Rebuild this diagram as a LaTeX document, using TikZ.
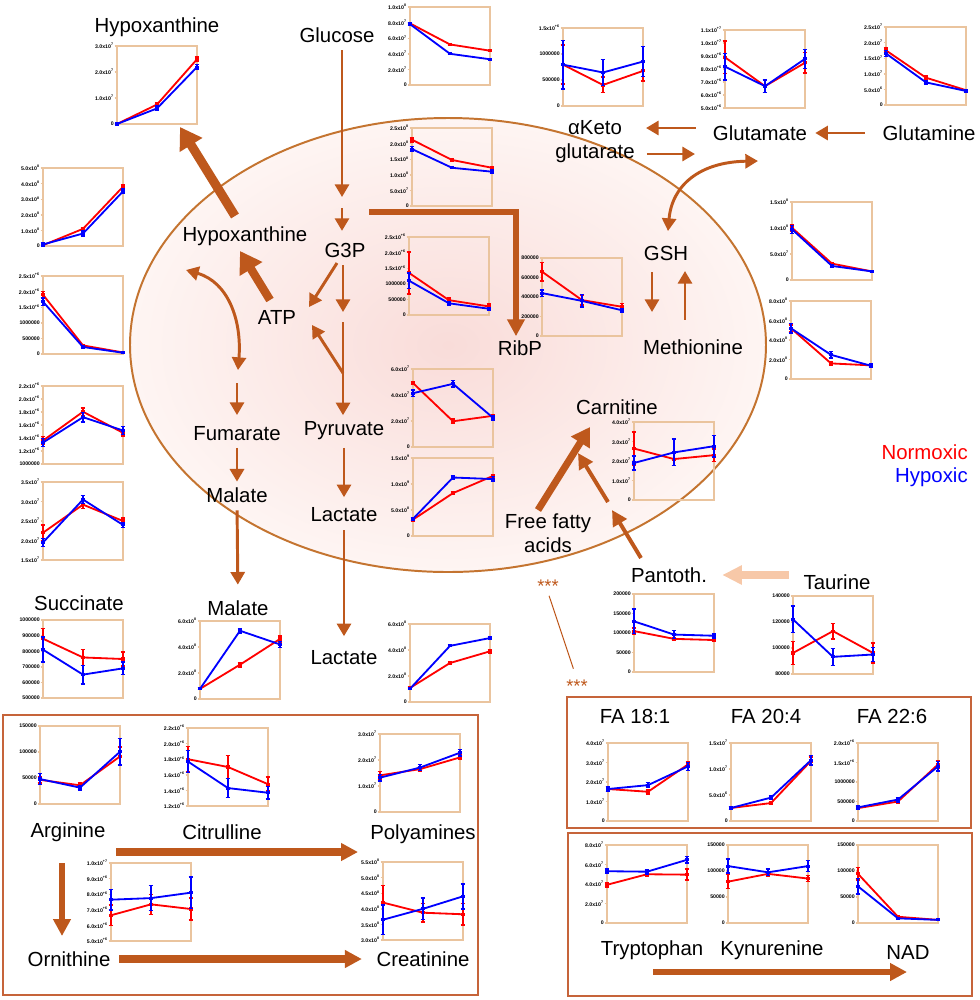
\documentclass[tikz,border=0pt]{standalone}
\usepackage{fontspec}
\setmainfont{Liberation Sans}
\usetikzlibrary{arrows.meta}

\definecolor{arrowbrown}{RGB}{190,88,28}
\definecolor{rimbrown}{RGB}{196,116,48}
\definecolor{boxbrown}{RGB}{198,100,58}
\definecolor{frametan}{RGB}{234,196,158}
\definecolor{peach}{RGB}{247,200,168}
\definecolor{cellpink}{RGB}{249,220,217}
\definecolor{cellpale}{RGB}{254,245,243}

\tikzset{
  chartframe/.style={draw=frametan, line width=1pt},
  ticklab/.style={anchor=east, inner sep=0.4pt, font=\fontsize{3.7}{4}\selectfont\bfseries},
  series/.style={line width=1.3pt, line cap=round},
  errbar/.style={line width=1pt},
}

% tick label in the chart's own notation
\newcommand{\sci}[2]{#1x10\textsuperscript{#2}}

% one data series: list of value/error, values as fraction of the axis
\newcommand{\plotseries}[2]{%
  \foreach \yv/\ev [count=\i from 0, remember=\yv as \yold (initially 0)] in {#2} {
    \ifnum\i>0 \draw[series,#1] ({(\i-1)/2},\yold) -- (\i/2,\yv);\fi
    \draw[errbar,#1] (\i/2,\yv-\ev) -- (\i/2,\yv+\ev)
      (\i/2-0.03,\yv-\ev) -- (\i/2+0.03,\yv-\ev)
      (\i/2-0.03,\yv+\ev) -- (\i/2+0.03,\yv+\ev);
    \fill[#1] (\i/2,\yv) +(-0.02,-0.02) rectangle +(0.02,0.02);
  }}

% small chart: top left corner, number of intervals, tick labels, normoxic, hypoxic
\newcommand{\minichart}[5]{%
  \begin{scope}[shift={#1}, yshift=-19.5mm, x=20mm, y=19.5mm]
    \draw[chartframe] (0,0) rectangle (1,1);
    \foreach \lab [count=\k from 0] in {#3} {
      \draw[chartframe] (-0.03,\k/#2) -- (0,\k/#2);
      \node[ticklab] at (-0.03,\k/#2) {\lab};
    }
    \plotseries{red}{#4}
    \plotseries{blue}{#5}
  \end{scope}}

\begin{document}
\begin{tikzpicture}[x=0.25mm, y=-0.25mm, >={Triangle[width=10pt,length=9pt]}]
  \tikzstyle{lab}=[font=\fontsize{14.5}{17}\selectfont, inner sep=0pt, align=center]
  \tikzstyle{stars}=[font=\fontsize{13}{15}\selectfont, text=arrowbrown, inner sep=0pt]
  \tikzstyle{flow}=[->, draw=arrowbrown, line width=2.1pt]
  \tikzstyle{fatflow}=[-{Triangle[width=18pt,length=15pt]}, draw=arrowbrown, line width=6.5pt]
  \tikzstyle{ribflow}=[-{Triangle[width=12pt,length=12pt]}, draw=arrowbrown, line width=4.2pt, line join=miter]
  \tikzstyle{ffaflow}=[-{Triangle[width=15pt,length=13pt]}, draw=arrowbrown, line width=5pt]
  \tikzstyle{panflow}=[-{Triangle[width=11pt,length=11pt]}, draw=arrowbrown, line width=2.8pt]
  \tikzstyle{peachflow}=[-{Triangle[width=13pt,length=14pt]}, draw=peach, line width=5pt]
  \tikzstyle{boxflow}=[-{Triangle[width=12pt,length=12pt]}, draw=arrowbrown, line width=5pt]
  \tikzstyle{groupbox}=[draw=boxbrown, line width=1.4pt]

  \useasboundingbox (0,0) rectangle (980,1000);

  % the cell
  \shade[inner color=cellpink, outer color=cellpale] (448,345) ellipse [x radius=318, y radius=227];
  \draw[rimbrown, line width=1.4pt] (448,345) ellipse [x radius=318, y radius=227];

  % group boxes
  \draw[groupbox] (3,715) rectangle (478,995);
  \draw[groupbox] (567,697) rectangle (971,828);
  \draw[groupbox] (568,833) rectangle (972,996);

  % metabolite labels
  \node[lab] (hxTop) at (157,27) {Hypoxanthine};
  \node[lab] (glucose) at (337,35) {Glucose};
  \node[lab] (akg) at (595,142) {αKeto\\glutarate};
  \node[lab] (glutamate) at (760,133) {Glutamate};
  \node[lab] (glutamine) at (929,133) {Glutamine};
  \node[lab] (hxIn) at (245,236) {Hypoxanthine};
  \node[lab] (g3p) at (345,250) {G3P};
  \node[lab] (atp) at (277,317) {ATP};
  \node[lab] (ribp) at (520,348) {RibP};
  \node[lab] (gsh) at (666,253) {GSH};
  \node[lab] (methionine) at (693,347) {Methionine};
  \node[lab] (fumarate) at (237,434) {Fumarate};
  \node[lab] (malateIn) at (237,495) {Malate};
  \node[lab] (pyruvate) at (344,431) {Pyruvate};
  \node[lab] (lactateIn) at (344,515) {Lactate};
  \node[lab] (carnitine) at (617,407) {Carnitine};
  \node[lab] (ffa) at (548,533) {Free fatty\\acids};
  \node[lab] (pantoth) at (669,575) {Pantoth.};
  \node[lab] (taurine) at (837,582) {Taurine};
  \node[lab] (succinate) at (79,603) {Succinate};
  \node[lab] (malateOut) at (238,608) {Malate};
  \node[lab] (lactateOut) at (344,658) {Lactate};
  \node[lab, anchor=east, text=red] (normoxic) at (968,452) {Normoxic};
  \node[lab, anchor=east, text=blue] (hypoxic) at (968,477) {Hypoxic};
  \node[stars] (starsA) at (548,586) {***};
  \node[stars] (starsB) at (577,686) {***};
  \node[lab] (fa181) at (635,716) {FA 18:1};
  \node[lab] (fa204) at (766,716) {FA 20:4};
  \node[lab] (fa226) at (892,716) {FA 22:6};
  \node[lab] (arginine) at (68,832) {Arginine};
  \node[lab] (citrulline) at (222,832) {Citrulline};
  \node[lab] (polyamines) at (423,834) {Polyamines};
  \node[lab] (ornithine) at (69,959) {Ornithine};
  \node[lab] (creatinine) at (423,959) {Creatinine};
  \node[lab] (tryptophan) at (652,950) {Tryptophan};
  \node[lab] (kynurenine) at (772,950) {Kynurenine};
  \node[lab] (nad) at (908,952) {NAD};

  % charts round the cell
  \minichart{(117,46)}{3}{0,\sci{1.0}{7},\sci{2.0}{7},\sci{3.0}{7}}
    {0/0.01,0.25/0.02,0.83/0.03}{0/0.01,0.2/0.03,0.73/0.03}
  \minichart{(43,168)}{5}{0,\sci{1.0}{8},\sci{2.0}{8},\sci{3.0}{8},\sci{4.0}{8},\sci{5.0}{8}}
    {0.01/0.01,0.22/0.02,0.76/0.03}{0.02/0.02,0.16/0.03,0.7/0.03}
  \minichart{(410,7)}{5}{0,\sci{2.0}{7},\sci{4.0}{7},\sci{6.0}{7},\sci{8.0}{7},\sci{1.0}{8}}
    {0.79/0.01,0.52/0.01,0.44/0.01}{0.78/0.02,0.4/0.01,0.33/0.01}
  \minichart{(563,28)}{3}{0,500000,1000000,\sci{1.5}{+6}}
    {0.53/0.25,0.27/0.1,0.45/0.13}{0.53/0.31,0.43/0.17,0.57/0.19}
  \minichart{(412,128)}{5}{0,\sci{5.0}{7},\sci{1.0}{8},\sci{1.5}{8},\sci{2.0}{8},\sci{2.5}{8}}
    {0.85/0.03,0.59/0.02,0.49/0.02}{0.73/0.03,0.49/0.01,0.44/0.02}
  \minichart{(725,30)}{6}{\sci{5.0}{+6},\sci{6.0}{+6},\sci{7.0}{+6},\sci{8.0}{+6},\sci{9.0}{+6},\sci{1.0}{+7},\sci{1.1}{+7}}
    {0.65/0.21,0.28/0.08,0.58/0.13}{0.53/0.17,0.28/0.08,0.63/0.12}
  \minichart{(886,27)}{5}{0,\sci{5.0}{6},\sci{1.0}{7},\sci{1.5}{7},\sci{2.0}{7},\sci{2.5}{7}}
    {0.7/0.03,0.35/0.03,0.19/0.01}{0.66/0.04,0.29/0.02,0.18/0.02}
  \minichart{(792,202)}{3}{0,\sci{5.0}{7},\sci{1.0}{8},\sci{1.5}{8}}
    {0.67/0.04,0.21/0.01,0.11/0.01}{0.65/0.05,0.18/0.02,0.11/0.01}
  \minichart{(791,301)}{4}{0,\sci{2.0}{8},\sci{4.0}{8},\sci{6.0}{8},\sci{8.0}{8}}
    {0.65/0.04,0.2/0.02,0.175/0.02}{0.65/0.06,0.31/0.04,0.17/0.02}
  \minichart{(43,276)}{5}{0,500000,1000000,\sci{1.5}{+6},\sci{2.0}{+6},\sci{2.5}{+6}}
    {0.76/0.04,0.11/0.01,0.02/0.005}{0.67/0.05,0.09/0.01,0.016/0.005}
  \minichart{(43,386)}{6}{1000000,\sci{1.2}{+6},\sci{1.4}{+6},\sci{1.6}{+6},\sci{1.8}{+6},\sci{2.0}{+6},\sci{2.2}{+6}}
    {0.3/0.05,0.67/0.05,0.4/0.04}{0.275/0.05,0.6/0.06,0.43/0.05}
  \minichart{(43,482)}{4}{\sci{1.5}{7},\sci{2.0}{7},\sci{2.5}{7},\sci{3.0}{7},\sci{3.5}{7}}
    {0.35/0.1,0.71/0.05,0.5/0.04}{0.225/0.05,0.775/0.05,0.45/0.03}
  \minichart{(409,237)}{5}{0,500000,1000000,\sci{1.5}{+6},\sci{2.0}{+6},\sci{2.5}{+6}}
    {0.54/0.27,0.19/0.03,0.11/0.03}{0.44/0.1,0.15/0.02,0.08/0.02}
  \minichart{(542,258)}{4}{0,200000,400000,600000,800000}
    {0.825/0.12,0.46/0.06,0.375/0.04}{0.55/0.04,0.45/0.08,0.33/0.02}
  \minichart{(413,369)}{3}{0,\sci{2.0}{7},\sci{4.0}{7},\sci{6.0}{7}}
    {0.82/0.02,0.33/0.03,0.4/0.02}{0.69/0.04,0.81/0.04,0.375/0.03}
  \minichart{(413,458)}{3}{0,\sci{5.0}{8},\sci{1.0}{9},\sci{1.5}{9}}
    {0.21/0.02,0.55/0.02,0.77/0.02}{0.22/0.02,0.75/0.02,0.73/0.03}
  \minichart{(634,422)}{4}{0,\sci{1.0}{7},\sci{2.0}{7},\sci{3.0}{7},\sci{4.0}{7}}
    {0.66/0.21,0.525/0.08,0.575/0.08}{0.475/0.09,0.61/0.17,0.69/0.14}
  \minichart{(634,594)}{4}{0,50000,100000,150000,200000}
    {0.525/0.04,0.425/0.02,0.41/0.02}{0.65/0.16,0.48/0.05,0.465/0.03}
  \minichart{(793,596)}{3}{80000,100000,120000,140000}
    {0.27/0.15,0.55/0.1,0.27/0.13}{0.7/0.17,0.22/0.11,0.25/0.09}
  \minichart{(43,620)}{5}{500000,600000,700000,800000,900000,1000000}
    {0.76/0.13,0.52/0.1,0.5/0.09}{0.62/0.16,0.3/0.12,0.38/0.08}
  \minichart{(200,621)}{3}{0,\sci{2.0}{8},\sci{4.0}{8},\sci{6.0}{8}}
    {0.13/0.01,0.44/0.03,0.77/0.04}{0.13/0.01,0.875/0.03,0.7/0.04}
  \minichart{(410,624)}{3}{0,\sci{2.0}{8},\sci{4.0}{8},\sci{6.0}{8}}
    {0.18/0.01,0.5/0.01,0.65/0.02}{0.17/0.01,0.72/0.01,0.82/0.02}

  % charts in the arginine box
  \minichart{(40,726)}{3}{0,50000,100000,150000}
    {0.31/0.04,0.24/0.03,0.61/0.12}{0.32/0.07,0.21/0.03,0.67/0.17}
  \minichart{(188,728)}{5}{\sci{1.2}{+6},\sci{1.4}{+6},\sci{1.6}{+6},\sci{1.8}{+6},\sci{2.0}{+6},\sci{2.2}{+6}}
    {0.6/0.16,0.5/0.15,0.28/0.09}{0.57/0.14,0.23/0.12,0.17/0.08}
  \minichart{(380,734)}{3}{0,\sci{1.0}{7},\sci{2.0}{7},\sci{3.0}{7}}
    {0.47/0.05,0.55/0.03,0.7/0.03}{0.44/0.04,0.57/0.04,0.76/0.04}
  \minichart{(111,863)}{5}{\sci{5.0}{+6},\sci{6.0}{+6},\sci{7.0}{+6},\sci{8.0}{+6},\sci{9.0}{+6},\sci{1.0}{+7}}
    {0.33/0.13,0.47/0.13,0.41/0.14}{0.53/0.13,0.55/0.16,0.62/0.2}
  \minichart{(383,862)}{5}{\sci{3.0}{8},\sci{3.5}{8},\sci{4.0}{8},\sci{4.5}{8},\sci{5.0}{8},\sci{5.5}{8}}
    {0.48/0.22,0.35/0.12,0.33/0.14}{0.26/0.19,0.4/0.14,0.56/0.16}

  % charts in the fatty acid and tryptophan boxes
  \minichart{(608,743)}{4}{0,\sci{1.0}{7},\sci{2.0}{7},\sci{3.0}{7},\sci{4.0}{7}}
    {0.41/0.03,0.375/0.03,0.725/0.04}{0.41/0.03,0.46/0.03,0.7/0.05}
  \minichart{(731,743)}{3}{0,\sci{5.0}{6},\sci{1.0}{7},\sci{1.5}{7}}
    {0.167/0.02,0.23/0.02,0.77/0.05}{0.167/0.02,0.3/0.02,0.78/0.06}
  \minichart{(858,743)}{4}{0,500000,1000000,\sci{1.5}{+6},\sci{2.0}{+6}}
    {0.165/0.02,0.25/0.02,0.725/0.05}{0.175/0.02,0.275/0.03,0.7/0.06}
  \minichart{(607,845)}{4}{0,\sci{2.0}{7},\sci{4.0}{7},\sci{6.0}{7},\sci{8.0}{7}}
    {0.49/0.03,0.625/0.02,0.62/0.07}{0.664/0.03,0.658/0.03,0.81/0.04}
  \minichart{(728,845)}{3}{0,50000,100000,150000}
    {0.53/0.09,0.63/0.03,0.57/0.04}{0.73/0.09,0.65/0.04,0.73/0.07}
  \minichart{(858,845)}{3}{0,50000,100000,150000}
    {0.63/0.08,0.08/0.01,0.04/0.005}{0.47/0.1,0.06/0.01,0.04/0.005}

  % glycolysis
  \coordinate (glcBreak) at (342,197);
  \coordinate (g3pFeed) at (342,208);
  \coordinate (g3pStem) at (343,312);
  \coordinate (pyrStem) at (343,322);
  \coordinate (atpFork) at (343,373);
  \coordinate (atpTipB) at (312,325);
  \coordinate (g3pAtp) at (337,263);
  \coordinate (atpTipA) at (309,307);
  \draw[flow, shorten <=1.9mm] (glucose.south -| glcBreak) -- (glcBreak);
  \draw[flow, shorten >=2.9mm] (g3pFeed) -- (g3pFeed |- g3p.north);
  \draw[flow, shorten <=1.9mm] (g3p.south -| g3pStem) -- (g3pStem);
  \draw[flow, shorten >=1.6mm] (pyrStem) -- (pyrStem |- pyruvate.north);
  \draw[flow] (atpFork) -- (atpTipB);
  \draw[flow] (g3pAtp) -- (atpTipA);
  \draw[flow, shorten <=1.85mm, shorten >=2.6mm] (pyruvate.south) -- (lactateIn.north);
  \draw[flow, shorten <=1.9mm, shorten >=3.6mm] (lactateIn.south) -- (lactateOut.north);

  % pentose branch
  \coordinate (ribStart) at (369,212);
  \coordinate (ribCorner) at (516,212);
  \draw[ribflow, shorten >=1mm] (ribStart) -- (ribCorner) -- (ribCorner |- ribp.north);

  % purines
  \coordinate (atpOut) at (270,300);
  \coordinate (hxInTip) at (240,251);
  \coordinate (hxOut) at (235,216);
  \coordinate (hxTopTip) at (180,127);
  \draw[fatflow, line width=6pt] (atpOut) -- (hxInTip);
  \draw[fatflow] (hxOut) -- (hxTopTip);

  % TCA side
  \coordinate (tcaA) at (186,270);
  \coordinate (tcaB) at (238,370);
  \coordinate (fumFeed) at (237,383);
  \draw[flow, <->] (tcaA) .. controls (228,282) and (242,320) .. (tcaB);
  \draw[flow, shorten >=2.9mm] (fumFeed) -- (fumFeed |- fumarate.north);
  \draw[flow, shorten <=1.6mm, shorten >=1.4mm] (fumarate.south) -- (malateIn.north);
  \draw[flow, shorten <=1.9mm, shorten >=3.9mm] (malateIn.south) -- (malateOut.north);

  % glutamate and glutathione
  \coordinate (akgUp) at (646,128);
  \coordinate (akgDown) at (695,154);
  \coordinate (gshTip) at (668,231);
  \coordinate (gluTip) at (758,161);
  \coordinate (metTip) at (652,312);
  \coordinate (gshTipB) at (685,271);
  \draw[flow, shorten <=4.25mm] (glutamate.west |- akgUp) -- (akgUp);
  \draw[flow, shorten <=3mm] (akg.east |- akgDown) -- (akgDown);
  \draw[flow, shorten <=4.4mm, shorten >=2mm] (glutamine.west) -- (glutamate.east);
  \draw[flow, <->] (gshTip) .. controls (672,185) and (700,162) .. (gluTip);
  \draw[flow, shorten <=2.9mm] (gsh.south -| metTip) -- (metTip);
  \draw[flow, shorten <=4.9mm] (methionine.north -| gshTipB) -- (gshTipB);

  % carnitine
  \coordinate (ffaOut) at (538,510);
  \coordinate (carnTipA) at (590,427);
  \coordinate (panOut) at (641,558);
  \coordinate (panMid) at (612,510);
  \coordinate (panMidB) at (608,502);
  \coordinate (carnTipB) at (578,453);
  \draw[ffaflow] (ffaOut) -- (carnTipA);
  \draw[panflow] (panOut) -- (panMid);
  \draw[panflow] (panMidB) -- (carnTipB);
  \draw[peachflow, shorten <=3.6mm, shorten >=3.75mm] (taurine.west |- pantoth) -- (pantoth.east);
  \draw[arrowbrown, line width=0.7pt, shorten <=0.85mm, shorten >=2.85mm] (starsA.south) -- (starsB.north);

  % arginine box
  \coordinate (argOut) at (116,852);
  \coordinate (polyTip) at (358,852);
  \coordinate (argDown) at (62,863);
  \coordinate (ornTip) at (62,936);
  \draw[boxflow] (argOut) -- (polyTip);
  \draw[boxflow, line width=4.5pt] (argDown) -- (ornTip);
  \draw[boxflow, shorten <=2.1mm, shorten >=3.6mm] (ornithine.east) -- (creatinine.west);

  % tryptophan box
  \coordinate (trpOut) at (653,972);
  \coordinate (nadTip) at (907,972);
  \draw[boxflow, line width=4.5pt] (trpOut) -- (nadTip);
\end{tikzpicture}
\end{document}
